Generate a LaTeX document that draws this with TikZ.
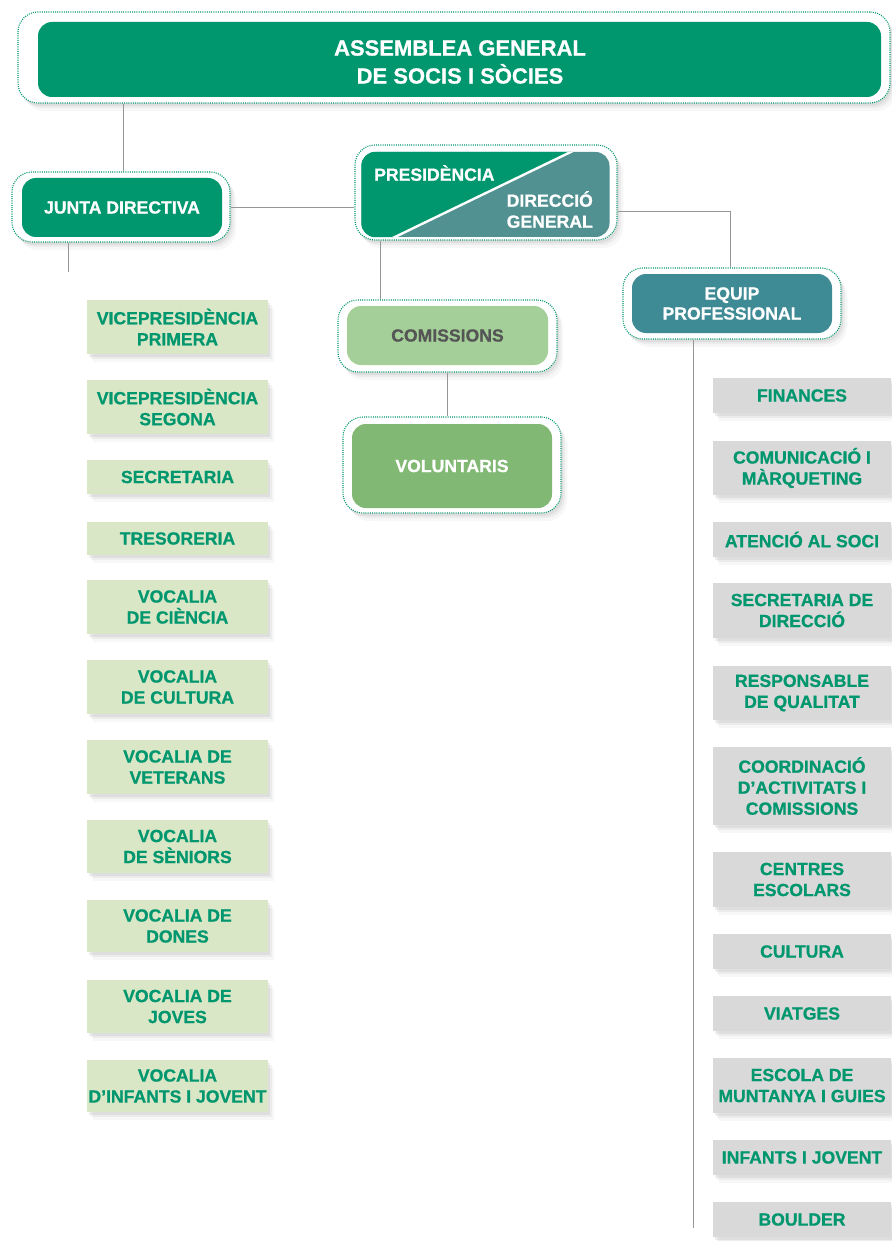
\documentclass[tikz,border=0pt]{standalone}
\usepackage{fontspec}
\setmainfont{Liberation Sans}[BoldFeatures={FakeBold=0.8}]
\usetikzlibrary{shadows,calc}
\definecolor{dgreen}{RGB}{0,150,110}
\definecolor{dirteal}{RGB}{82,145,145}
\definecolor{eqteal}{RGB}{63,139,149}
\definecolor{comgreen}{RGB}{164,207,153}
\definecolor{volgreen}{RGB}{129,184,115}
\definecolor{lgreen}{RGB}{217,231,198}
\definecolor{lgray}{RGB}{217,217,217}
\definecolor{txtgray}{RGB}{85,85,85}
\definecolor{linegray}{RGB}{150,150,150}
\tikzset{
  softshadow/.style={drop shadow={opacity=.13, shadow xshift=2pt, shadow yshift=-3pt},
                     drop shadow={opacity=.09, shadow xshift=4pt, shadow yshift=-5pt},
                     drop shadow={opacity=.06, shadow xshift=6pt, shadow yshift=-8pt}},
  outerbox/.style={draw=dgreen, line width=1.1pt, dash pattern=on 1pt off 1.2pt, fill=white,
                   rounded corners=20pt, inner sep=0pt, softshadow},
  innerbox/.style={rounded corners=14pt, inner sep=0pt, align=center, text=white,
                   font=\bfseries\fontsize{17.6}{20}\selectfont},
  leftitem/.style={fill=lgreen, minimum width=181pt, inner sep=0pt, align=center, text=dgreen,
                   font=\bfseries\fontsize{17.6}{21}\selectfont, softshadow},
  rightitem/.style={fill=lgray, minimum width=178pt, inner sep=0pt, align=center, text=dgreen,
                   font=\bfseries\fontsize{17.6}{21}\selectfont, softshadow},
  conn/.style={draw=linegray, line width=0.8pt}
}
\begin{document}
\begin{tikzpicture}[x=1pt,y=-1pt]
\useasboundingbox[fill=white] (0,0) rectangle (891,1241);

% Header
\node[outerbox, minimum width=872pt, minimum height=91pt] (hdro) at (454,57.5) {};
\node[innerbox, fill=dgreen, minimum width=843pt, minimum height=75pt] (hdri) at (459.5,59.5) {};
\node[align=center, text=white, inner sep=0pt, font=\bfseries\fontsize{22}{28}\selectfont]
      (hdrt) at (460,62) {ASSEMBLEA GENERAL\\DE SOCIS I SÒCIES};

% Junta directiva
\node[outerbox, minimum width=218pt, minimum height=70pt] (jdo) at (121,207) {};
\node[innerbox, fill=dgreen, minimum width=200pt, minimum height=59pt] (jdi) at (122,207.5) {JUNTA DIRECTIVA};

% Presidencia / Direccio general
\node[outerbox, minimum width=262pt, minimum height=95pt] (pro) at (486,192.5) {};
\node[innerbox, fill=dirteal, minimum width=248pt, minimum height=85pt] (pri) at (485.5,194.5) {};
\begin{scope}
  \clip[rounded corners=14pt] (pri.south west) rectangle (pri.north east);
  \fill[dgreen] ($(pri.north west)+(-2,-2)$) -- ($(pri.north west)+(214,-2)$)
       -- ($(pri.south west)+(28,2)$) -- ($(pri.south west)+(-2,2)$) -- cycle;
  \draw[white, line width=2.4pt] ($(pri.south west)+(27,3)$) -- ($(pri.north west)+(216,-3)$);
\end{scope}
\node[anchor=west, text=white, inner sep=0pt, font=\bfseries\fontsize{17.6}{20}\selectfont] (prt) at (374,173) {PRESIDÈNCIA};
\node[anchor=east, align=right, text=white, inner sep=0pt, font=\bfseries\fontsize{17.6}{21}\selectfont] (dgt) at (593,209.5) {DIRECCIÓ\\GENERAL};

% Comissions / Voluntaris
\node[outerbox, minimum width=219pt, minimum height=72pt] (cmo) at (447.5,336) {};
\node[innerbox, fill=comgreen, text=txtgray, minimum width=201pt, minimum height=59pt] (cmi) at (447.5,335.5) {COMISSIONS};
\node[outerbox, minimum width=218pt, minimum height=96pt] (vlo) at (452,465) {};
\node[innerbox, fill=volgreen, minimum width=200pt, minimum height=84pt] (vli) at (452,466) {VOLUNTARIS};

% Equip professional
\node[outerbox, minimum width=218pt, minimum height=71pt] (eqo) at (732,303.5) {};
\node[innerbox, fill=eqteal, minimum width=200pt, minimum height=59pt] (eqi) at (732,303.5) {EQUIP\\PROFESSIONAL};

% Left list
\node[leftitem, minimum height=54pt] (l1) at (177.5,327) {VICEPRESIDÈNCIA\\PRIMERA};
\node[leftitem, minimum height=54pt] (l2) at (177.5,407) {VICEPRESIDÈNCIA\\SEGONA};
\node[leftitem, minimum height=34pt] (l3) at (177.5,477) {SECRETARIA};
\node[leftitem, minimum height=33pt] (l4) at (177.5,538.5) {TRESORERIA};
\node[leftitem, minimum height=54pt] (l5) at (177.5,607) {VOCALIA\\DE CIÈNCIA};
\node[leftitem, minimum height=54pt] (l6) at (177.5,687) {VOCALIA\\DE CULTURA};
\node[leftitem, minimum height=54pt] (l7) at (177.5,767) {VOCALIA DE\\VETERANS};
\node[leftitem, minimum height=53pt] (l8) at (177.5,846.5) {VOCALIA\\DE SÈNIORS};
\node[leftitem, minimum height=52pt] (l9) at (177.5,926) {VOCALIA DE\\DONES};
\node[leftitem, minimum height=53pt] (l10) at (177.5,1006.5) {VOCALIA DE\\JOVES};
\node[leftitem, minimum height=52pt] (l11) at (177.5,1086) {VOCALIA\\D’INFANTS I JOVENT};

% Right list
\node[rightitem, minimum height=35pt] (r1) at (802,395.5) {FINANCES};
\node[rightitem, minimum height=54pt] (r2) at (802,468) {COMUNICACIÓ I\\MÀRQUETING};
\node[rightitem, minimum height=35pt] (r3) at (802,539.5) {ATENCIÓ AL SOCI};
\node[rightitem, minimum height=55pt] (r4) at (802,610.5) {SECRETARIA DE\\DIRECCIÓ};
\node[rightitem, minimum height=54pt] (r5) at (802,693) {RESPONSABLE\\DE QUALITAT};
\node[rightitem, minimum height=78pt] (r6) at (802,786) {COORDINACIÓ\\D’ACTIVITATS I\\COMISSIONS};
\node[rightitem, minimum height=55pt] (r7) at (802,879.5) {CENTRES\\ESCOLARS};
\node[rightitem, minimum height=35pt] (r8) at (802,951.5) {CULTURA};
\node[rightitem, minimum height=35pt] (r9) at (802,1013.5) {VIATGES};
\node[rightitem, minimum height=55pt] (r10) at (802,1085.5) {ESCOLA DE\\MUNTANYA I GUIES};
\node[rightitem, minimum height=35pt] (r11) at (802,1157.5) {INFANTS I JOVENT};
\node[rightitem, minimum height=35pt] (r12) at (802,1219.5) {BOULDER};

% Connectors
\coordinate (hx) at (123,0);
\draw[conn] (hx |- hdro.south) -- (hx |- jdo.north);
\draw[conn] (jdo.east) -- (jdo.east -| pro.west);
\coordinate (pr) at ($(pro.east)+(0,18.5)$);
\coordinate (ex) at (730,0);
\draw[conn] (pr) -| (ex |- eqo.north);
\coordinate (pc) at ($(pro.south west)+(26,0)$);
\draw[conn] (pc) -- (pc |- cmo.north);
\draw[conn] (cmo.south) -- (cmo.south |- vlo.north);
\coordinate (jend) at (68,272);
\draw[conn] (jend |- jdo.south) -- (jend);
\coordinate (eend) at (693,1228);
\draw[conn] (eend |- eqo.south) -- (eend);
\end{tikzpicture}
\end{document}
